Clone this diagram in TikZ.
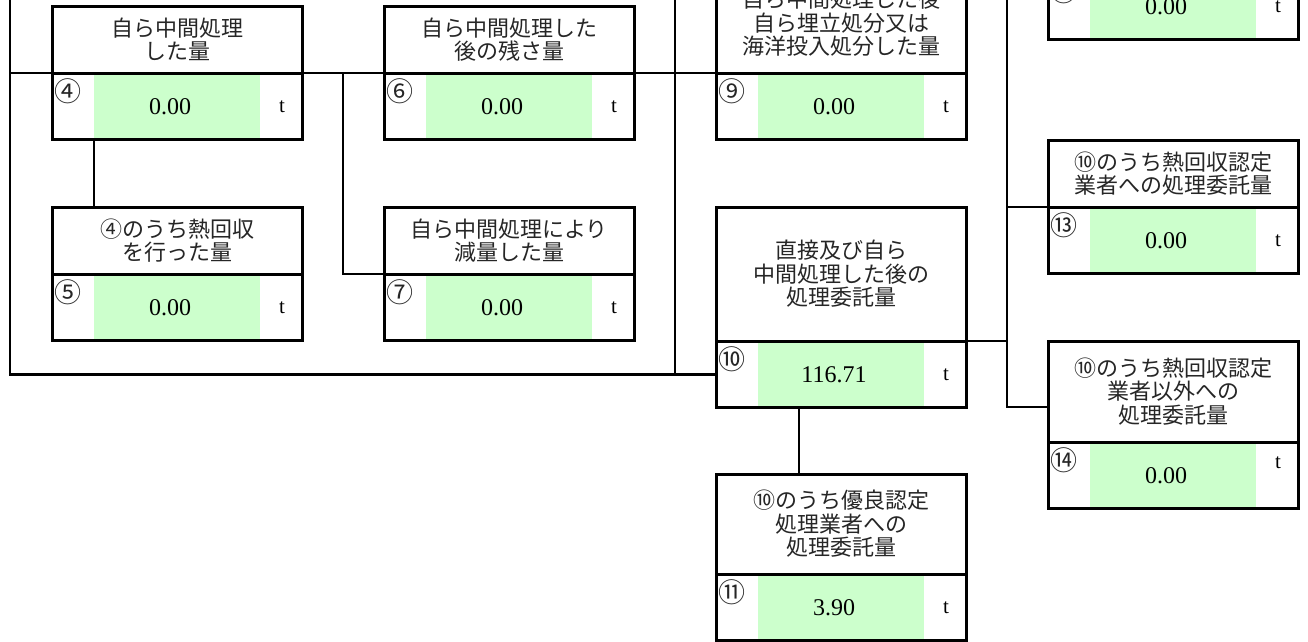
\documentclass[tikz,border=0pt]{standalone}
\usepackage{fontspec}
\setmainfont{Liberation Serif}
\newfontfamily\jpfont{Noto Sans CJK JP}
\usetikzlibrary{positioning,calc}
\definecolor{cellgreen}{HTML}{CCFFCC}

\tikzset{
  box/.style={draw, line width=3pt, minimum width=250pt, inner sep=0pt, outer sep=0pt},
  ttl/.style={box, anchor=north, align=center, text=black!85,
    font=\jpfont\fontsize{22}{23.5}\selectfont},
  valrow/.style={box, minimum height=66.5pt},
  greenfill/.style={fill=cellgreen, minimum width=166pt, minimum height=63.5pt, inner sep=0pt},
  amount/.style={font=\fontsize{24}{26}\selectfont, inner sep=0pt},
  circnum/.style={anchor=north west, inner sep=1pt, xshift=1pt, yshift=-4pt,
    text=black!85, font=\jpfont\fontsize{27}{28}\selectfont},
  unit/.style={font=\fontsize{21}{22}\selectfont, inner sep=0pt},
  link/.style={line width=2.6pt},
}

% value row under a title box: name, placement, number, value, shift of t
\newcommand{\amountrow}[5]{%
  \node[valrow, #2] (v#1) {};
  \node[greenfill] (g#1) at (v#1) {};
  \node[amount] (a#1) at ($(v#1)+(-7,0)$) {#4};
  \node[circnum] (c#1) at (v#1.north west) {#3};
  \node[unit] (u#1) at ($(v#1.east)+(-20,#5)$) {t};
}

\begin{document}
\begin{tikzpicture}[x=1pt, y=-1pt]
  \useasboundingbox (0,0) rectangle (1308,641);
  \clip (0,0) rectangle (1308,641);

  % upper row
  \node[ttl, minimum height=67pt] (t4) at (177,6) {自ら中間処理\\した量};
  \amountrow{4}{below=0pt of t4}{④}{0.00}{0}
  \node[ttl, minimum height=67pt] (t6) at (509,6) {自ら中間処理した\\後の残さ量};
  \amountrow{6}{below=0pt of t6}{⑥}{0.00}{0}
  \node[ttl, minimum height=100pt] (t9) at (841,-27) {自ら中間処理した後\\自ら埋立処分又は\\海洋投入処分した量};
  \amountrow{9}{below=0pt of t9}{⑨}{0.00}{0}

  % lower row
  \node[ttl, minimum height=67pt] (t5) at (177,207) {④のうち熱回収\\を行った量};
  \amountrow{5}{below=0pt of t5}{⑤}{0.00}{0}
  \node[ttl, minimum height=67pt] (t7) at (509,207) {自ら中間処理により\\減量した量};
  \amountrow{7}{below=0pt of t7}{⑦}{0.00}{0}
  \node[ttl, minimum height=134pt] (t10) at (841,207) {直接及び自ら\\中間処理した後の\\処理委託量};
  \amountrow{10}{below=0pt of t10}{⑩}{116.71}{0}
  \node[ttl, minimum height=100pt] (t11) at (841,474) {⑩のうち優良認定\\処理業者への\\処理委託量};
  \amountrow{11}{below=0pt of t11}{⑪}{3.90}{0}

  % right column
  \amountrow{12}{anchor=north, at={(1173,-27)}}{⑫}{0.00}{0}
  \node[ttl, minimum height=67pt] (t13) at (1173,140) {⑩のうち熱回収認定\\業者への処理委託量};
  \amountrow{13}{below=0pt of t13}{⑬}{0.00}{0}
  \node[ttl, minimum height=101pt] (t14) at (1173,341) {⑩のうち熱回収認定\\業者以外への\\処理委託量};
  \amountrow{14}{below=0pt of t14}{⑭}{0.00}{-13}

  % connectors
  \coordinate (leftend) at (10,-40);
  \coordinate (midend) at (675,-40);
  \coordinate (rightend) at (1007,-40);
  \draw[link] (leftend) |- (v10.west);
  \draw[link] (midend) |- (v10.west);
  \draw[link] (leftend |- t4.south west) -- (t4.south west);
  \draw[link] (t4.south east) -- (t6.south west);
  \draw[link] (t6.south east) -- (t9.south west);
  \coordinate (split6) at ($(t4.south east)!0.5!(t6.south west)$);
  \draw[link] (split6) |- (t7.south west);
  \draw[link] (g4.south west) -- (g4.south west |- t5.north);
  \coordinate (drop10) at ($(v10.south west)+(83,0)$);
  \draw[link] (drop10) -- (drop10 |- t11.north);
  \draw[link] (t10.south east) -- (t10.south east -| rightend);
  \draw[link] (rightend) |- ($(t14.south west)+(0,-35)$);
  \draw[link] (rightend |- t13.south west) -- (t13.south west);
\end{tikzpicture}
\end{document}
